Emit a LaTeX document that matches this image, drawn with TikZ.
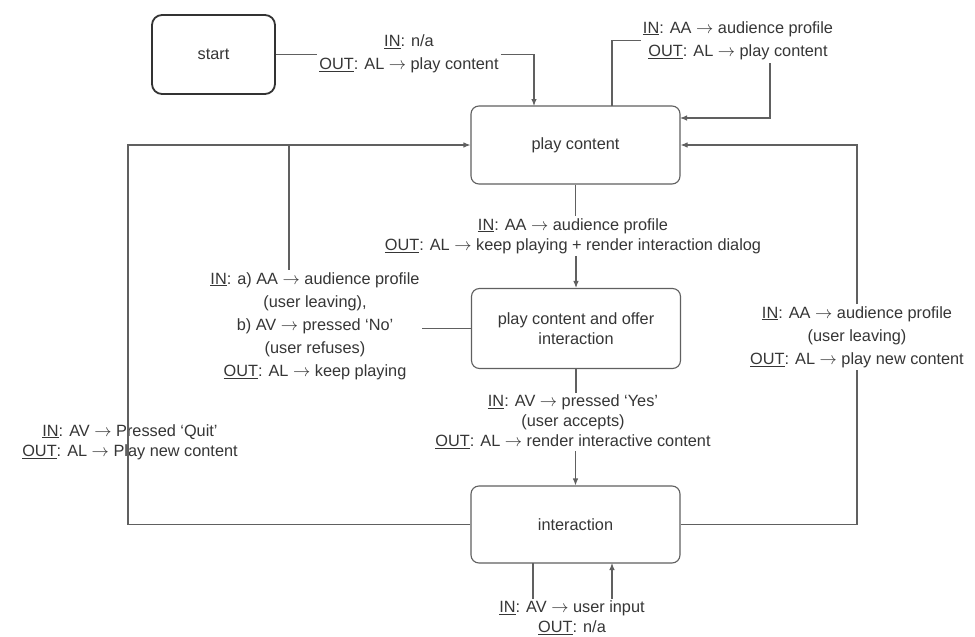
\documentclass[tikz,border=0pt]{standalone}
\usepackage{fontspec}
\setmainfont{Liberation Sans}
\usetikzlibrary{arrows.meta,calc}
\definecolor{txtgray}{HTML}{363636}
\definecolor{linegray}{HTML}{606060}
\newcommand{\inlbl}{\underline{IN}}
\newcommand{\outlbl}{\underline{OUT}}
\newcommand{\rarr}{$\rightarrow$}
\begin{document}
\begin{tikzpicture}[x=1pt,y=-1pt,
  statebox/.style={draw=linegray, line width=1.1pt, rounded corners=8pt,
    minimum width=209pt, minimum height=78pt, text=txtgray,
    font=\fontsize{16.3}{20}\selectfont, align=center, inner sep=0pt},
  startbox/.style={statebox, draw=black!80, line width=1.8pt,
    rounded corners=10pt, minimum width=123pt, minimum height=79pt},
  lbl/.style={text=txtgray, font=\fontsize{16.3}{20}\selectfont,
    align=center, inner sep=2pt},
  lblwide/.style={lbl, font=\fontsize{16.3}{23}\selectfont},
  conn/.style={draw=linegray, line width=1.1pt},
  arr/.style={conn, -{Latex[length=7pt,width=5.5pt]}}]

\useasboundingbox (0,0) rectangle (975,637);
\fill[white] (0,0) rectangle (975,637);

% states
\node[startbox] (start) at (213.5,54.5) {start};
\node[statebox] (play)  at (575.5,145) {play content};
\node[statebox, minimum height=80pt] (offer) at (576,328.5) {play content and offer\\interaction};
\node[statebox, minimum height=77pt] (inter) at (575.5,524.5) {interaction};

% transition labels
\node[lblwide] (l0) at (409,54) {\inlbl: n/a\\\outlbl: AL \rarr{} play content};
\node[lblwide] (l1) at (738,40.5) {\inlbl: AA \rarr{} audience profile\\\outlbl: AL \rarr{} play content};
\node[lbl] (lm1) at (573,236) {\inlbl: AA \rarr{} audience profile\\\outlbl: AL \rarr{} keep playing + render interaction dialog};
\node[lblwide] (la) at (315,326) {\inlbl: a) AA \rarr{} audience profile\\(user leaving),\\b) AV \rarr{} pressed ‘No’\\(user refuses)\\\outlbl: AL \rarr{} keep playing};
\node[lblwide] (lr) at (857,337) {\inlbl: AA \rarr{} audience profile\\(user leaving)\\\outlbl: AL \rarr{} play new content};
\node[lbl] (lm2) at (573,422) {\inlbl: AV \rarr{} pressed ‘Yes’\\(user accepts)\\\outlbl: AL \rarr{} render interactive content};
\node[lbl] (lq) at (130,442) {\inlbl: AV \rarr{} Pressed ‘Quit’\\\outlbl: AL \rarr{} Play new content};
\node[lbl] (lb) at (572,618) {\inlbl: AV \rarr{} user input\\\outlbl: n/a};

% helper points
\coordinate (pin)  at (534,106);
\coordinate (selfout) at (612,106);
\coordinate (selfdown) at (770,63);
\coordinate (selfin) at (680,118);
\coordinate (leftx) at (128,145);
\coordinate (jn) at (289,145);
\coordinate (botout) at (533,563);
\coordinate (botin) at (612,563);

% start -> play content
\draw[conn] (start.east) -- (l0.west |- start.east);
\draw[arr] (l0.east |- start.east) -| (pin);

% play content self loop
\draw[conn] (selfout) |- (l1.west);
\draw[arr] (selfdown) |- (selfin);

% play content -> offer
\draw[conn] (play.south) -- (lm1.north -| play.south);
\draw[arr] (lm1.south -| offer.north) -- (offer.north);

% offer -> play content (leave / refuse)
\draw[conn] (offer.west) -- (la.east |- offer.west);
\draw[conn] (jn) -- (la.north -| jn);

% offer -> interaction
\draw[conn] (offer.south) -- (lm2.north -| offer.south);
\draw[arr] (lm2.south -| inter.north) -- (inter.north);

% interaction -> play content (quit)
\draw[arr] (inter.west) -| (leftx) -- (play.west);

% interaction -> play content (user leaving)
\draw[conn] (inter.east) -| (lr.south);
\draw[arr] (lr.north) |- (play.east);

% interaction self loop (user input)
\draw[conn] (botout) -- (lb.north -| botout);
\draw[arr] (lb.north -| botin) -- (botin);
\end{tikzpicture}
\end{document}
